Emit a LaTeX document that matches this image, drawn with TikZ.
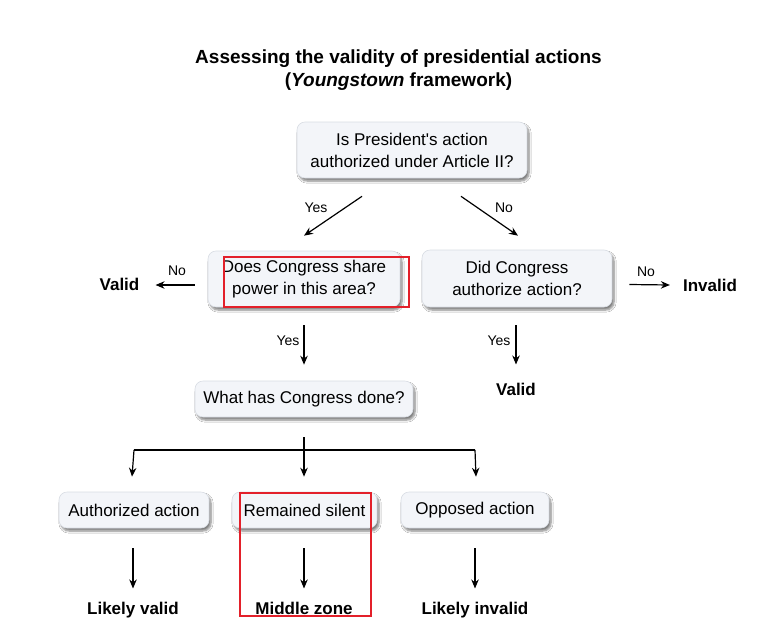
\documentclass[tikz,border=0pt]{standalone}
\usepackage{fontspec}
\setmainfont{Liberation Sans}
\usetikzlibrary{arrows.meta,shadows.blur}
\definecolor{boxfill}{HTML}{F3F5F9}
\definecolor{boxline}{HTML}{D9DDE4}
\definecolor{redmark}{HTML}{E3202A}
\tikzset{
  qbox/.style={draw=boxline, line width=0.6pt, fill=boxfill, rounded corners=8pt,
    align=center, font=\fontsize{17}{22}\selectfont, inner sep=0pt,
    blur shadow={shadow xshift=2pt, shadow yshift=-3pt, shadow blur steps=6, shadow opacity=50}},
  outcome/.style={font=\bfseries\fontsize{17}{20}\selectfont, inner sep=0pt, anchor=base},
  lbl/.style={font=\fontsize{14}{16}\selectfont, inner sep=0pt},
  arr/.style={line width=1.2pt, -{Stealth[length=9pt,width=7.5pt]}},
  ttl/.style={font=\bfseries\fontsize{19}{23}\selectfont, align=center, inner sep=0pt},
  hilite/.style={draw=redmark, line width=1.6pt, inner sep=0pt}
}
\begin{document}
\begin{tikzpicture}[x=1pt,y=-1pt]
\useasboundingbox (0,0) rectangle (757,624);
\fill[white] (0,0) rectangle (757,624);

\node[ttl] (title) at (398.5,70.5) {Assessing the validity of presidential actions\\(\textit{Youngstown} framework)};

\node[qbox, minimum width=230pt, minimum height=56pt] (q1) at (412,150) {Is President\textquotesingle s action\\authorized under Article II?};
\node[qbox, minimum width=192pt, minimum height=56pt] (q2) at (304,279) {Does Congress share\\power in this area?};
\node[qbox, minimum width=190pt, minimum height=57pt] (q3) at (517,278.5) {Did Congress\\authorize action?};
\node[qbox, minimum width=218pt, minimum height=36pt] (q4) at (304,399) {What has Congress done?};

\node[qbox, minimum width=150pt, minimum height=36pt] (b1) at (134,510) {Authorized action};
\node[qbox, minimum width=145pt, minimum height=36pt] (b2) at (304.5,510) {Remained silent};
\node[qbox, minimum width=148pt, minimum height=36pt] (b3) at (475,510) {Opposed action};

\node[outcome] (v1) at (119.5,290) {Valid};
\node[outcome] (inv) at (710,291) {Invalid};
\node[outcome] (v2) at (516,395) {Valid};
\node[outcome] (o1) at (133,614) {Likely valid};
\node[outcome] (o2) at (304,614) {Middle zone};
\node[outcome] (o3) at (475,614) {Likely invalid};

% labels
\node[lbl] (l1) at (316,208) {Yes};
\node[lbl] (l2) at (504,208) {No};
\node[lbl] (l3) at (177,271) {No};
\node[lbl] (l4) at (646,272) {No};
\node[lbl] (l5) at (288,341) {Yes};
\node[lbl] (l6) at (499,341) {Yes};

% connectors
\draw[arr] ([xshift=-50pt,yshift=-18pt]q1.south) -- ([yshift=15pt]q2.north);
\draw[arr] ([xshift=49pt,yshift=-18pt]q1.south) -- ([xshift=1pt,yshift=14pt]q3.north);
\draw[arr] ([xshift=-13pt,yshift=-6pt]q2.west) -- ([xshift=16pt]v1.east |- 0,285);
\draw[arr] ([xshift=17pt,yshift=-6pt]q3.east) -- ([xshift=-13pt]inv.west |- 0,285);
\draw[arr] ([yshift=-18pt]q2.south) -- ([yshift=16pt]q4.north);
\draw[arr] ([xshift=-1pt,yshift=-18pt]q3.south) -- ([yshift=18pt]v2.north);

\coordinate (split) at (304,450);
\draw[line width=1.2pt] ([yshift=-20pt]q4.south) -- (split);
\draw[line width=1.2pt] (split -| b1) -- (split -| b3);
\draw[arr] (split -| b1) -- ([xshift=-2pt,yshift=15pt]b1.north);
\draw[arr] (split) -- ([xshift=-0.5pt,yshift=15pt]b2.north);
\draw[arr] (split -| b3) -- ([xshift=1pt,yshift=15pt]b3.north);

\draw[arr] ([xshift=-1pt,yshift=-20pt]b1.south) -- ([yshift=13pt]o1.north);
\draw[arr] ([xshift=-0.5pt,yshift=-20pt]b2.south) -- ([yshift=13pt]o2.north);
\draw[arr] ([yshift=-20pt]b3.south) -- ([yshift=13pt]o3.north);

% highlight rectangles
\node[hilite, minimum width=185pt, minimum height=50pt] (h1) at (316.5,282) {};
\node[hilite, minimum width=131pt, minimum height=123pt] (h2) at (305.5,554.5) {};
\end{tikzpicture}
\end{document}
